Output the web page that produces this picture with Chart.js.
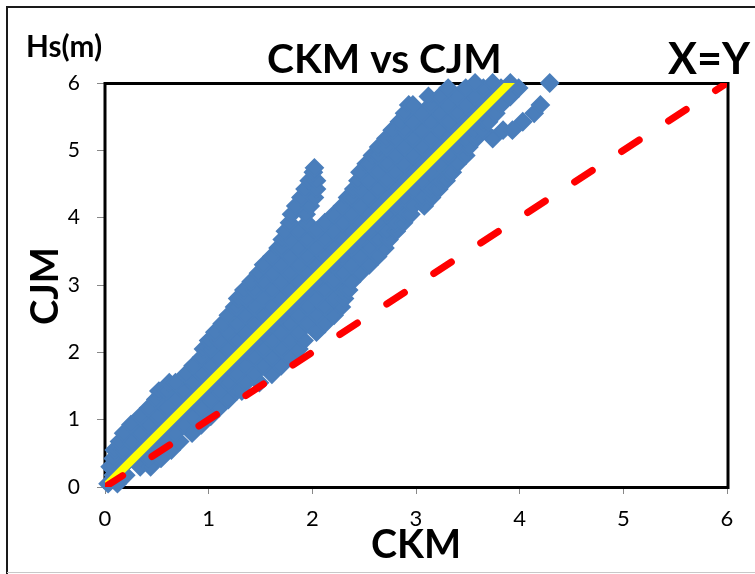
<!DOCTYPE html>
<html>
<head>
<meta charset="utf-8">
<script src="https://cdn.jsdelivr.net/npm/chart.js@4.4.1/dist/chart.umd.min.js"></script>
<style>
    body { margin: 0; background: #fff; }
    canvas { display: block; }
</style>
</head>
<body>
<canvas id="scatterChart" width="755" height="574"></canvas>
<script>
document.addEventListener("DOMContentLoaded", function () {

    // Scatter cloud:
    // one CJM value per row, and the CKM values seen along that row
    const cjmRows = [
        0.05, 0.175, 0.3, 0.425, 0.55, 0.675, 0.8, 0.925,
        1.05, 1.175, 1.3, 1.425, 1.55, 1.675, 1.8, 1.925,
        2.05, 2.175, 2.3, 2.425, 2.55, 2.675, 2.8, 2.925,
        3.05, 3.175, 3.3, 3.425, 3.55, 3.675, 3.8, 3.925,
        4.05, 4.175, 4.3, 4.425, 4.55, 4.675, 4.74, 4.8, 4.925,
        5.05, 5.175, 5.3, 5.425, 5.55, 5.675, 5.8, 5.925, 6.0
    ];
    const ckmRows = [
        [0.03, 0.12],
        [0.08, 0.2],
        [0.05, 0.17, 0.34, 0.44],
        [0.08, 0.25, 0.42, 0.54],
        [0.09, 0.17, 0.34, 0.51, 0.64],
        [0.14, 0.25, 0.42, 0.59, 0.72],
        [0.18, 0.34, 0.51, 0.68, 0.84],
        [0.25, 0.42, 0.59, 0.76, 0.93],
        [0.34, 0.51, 0.68, 0.85, 1.02],
        [0.42, 0.59, 0.76, 0.93, 1.10],
        [0.49, 0.68, 0.85, 1.02, 1.19],
        [0.52, 0.59, 0.76, 0.93, 1.10, 1.27, 1.32],
        [0.62, 0.68, 0.85, 1.02, 1.19, 1.36, 1.49],
        [0.78, 0.93, 1.10, 1.27, 1.44, 1.61],
        [0.85, 1.02, 1.19, 1.36, 1.53, 1.70],
        [0.93, 1.10, 1.27, 1.44, 1.61, 1.78],
        [0.95, 1.02, 1.19, 1.36, 1.53, 1.70, 1.87],
        [1.00, 1.10, 1.27, 1.44, 1.61, 1.78, 1.92],
        [1.06, 1.19, 1.36, 1.53, 1.70, 1.87, 2.04],
        [1.13, 1.27, 1.44, 1.61, 1.78, 1.95, 2.12],
        [1.19, 1.36, 1.53, 1.70, 1.87, 2.04, 2.21],
        [1.25, 1.27, 1.44, 1.61, 1.78, 1.95, 2.12, 2.28],
        [1.28, 1.36, 1.53, 1.70, 1.87, 2.04, 2.21, 2.31],
        [1.34, 1.44, 1.61, 1.78, 1.95, 2.12, 2.29, 2.35],
        [1.41, 1.53, 1.70, 1.87, 2.04, 2.21, 2.38],
        [1.48, 1.61, 1.78, 1.95, 2.12, 2.29, 2.46],
        [1.53, 1.70, 1.87, 2.04, 2.21, 2.38, 2.55],
        [1.61, 1.78, 1.95, 2.12, 2.29, 2.46, 2.63],
        [1.67, 1.70, 1.87, 2.04, 2.21, 2.38, 2.55, 2.70],
        [1.71, 1.78, 1.95, 2.12, 2.29, 2.46, 2.63, 2.74],
        [1.74, 1.87, 2.04, 2.21, 2.38, 2.55, 2.72, 2.81],
        [1.78, 1.95, 2.12, 2.29, 2.46, 2.63, 2.80, 2.88],
        [1.80, 1.94, 2.21, 2.38, 2.55, 2.72, 2.89, 2.95],
        [1.84, 1.98, 2.29, 2.46, 2.63, 2.80, 2.97, 3.08],
        [1.89, 2.02, 2.34, 2.38, 2.55, 2.72, 2.89, 3.06, 3.15],
        [1.93, 2.04, 2.40, 2.46, 2.63, 2.80, 2.97, 3.14, 3.22],
        [1.97, 2.04, 2.44, 2.55, 2.72, 2.89, 3.06, 3.23, 3.29],
        [2.01, 2.46, 2.63, 2.80, 2.97, 3.14, 3.31, 3.35],
        [2.02],
        [2.52, 2.55, 2.72, 2.89, 3.06, 3.23, 3.40],
        [2.58, 2.63, 2.80, 2.97, 3.14, 3.31, 3.48],
        [2.64, 2.72, 2.89, 3.06, 3.23, 3.40, 3.51],
        [2.71, 2.80, 2.97, 3.14, 3.31, 3.48, 3.58, 3.74],
        [2.77, 2.89, 3.06, 3.23, 3.40, 3.57, 3.65, 3.84, 3.93],
        [2.84, 2.97, 3.14, 3.31, 3.48, 3.65, 3.70, 4.03],
        [2.89, 3.06, 3.23, 3.40, 3.57, 3.74, 3.77, 4.14],
        [2.93, 2.97, 3.14, 3.31, 3.48, 3.65, 3.82, 4.20],
        [3.12, 3.23, 3.40, 3.57, 3.74, 3.91],
        [3.31, 3.48, 3.65, 3.82, 3.99],
        [3.57, 3.74, 3.91, 4.29]
    ];

    // Yellow fitted line and red X=Y line
    const fitCkm = [0, 3.9];
    const fitCjm = [0, 6];
    const xyCkm = [0, 6];
    const xyCjm = [0, 6];

    const axisMin = 0;
    const axisMax = 6;

    const cloud = [];
    cjmRows.forEach(function (cjm, i) {
        ckmRows[i].forEach(function (ckm) {
            cloud.push({ x: ckm, y: cjm });
        });
    });
    const fitLine = fitCkm.map(function (v, i) { return { x: v, y: fitCjm[i] }; });
    const xyLine = xyCkm.map(function (v, i) { return { x: v, y: xyCjm[i] }; });

    function setFittedFont(ctx, text, width) {
        ctx.font = "bold 100px Lato";
        const size = 100 * width / ctx.measureText(text).width;
        ctx.font = "bold " + size.toFixed(1) + "px Lato";
    }

    // Frame, plot border and the bold texts
    const decor = {
        id: "decor",
        beforeDatasetsDraw(chart) {
            const ctx = chart.ctx;
            const a = chart.chartArea;
            ctx.save();
            ctx.strokeStyle = "#000";
            ctx.lineWidth = 3;
            ctx.strokeRect(a.left, a.top + 0.5, a.right - a.left + 1, a.bottom - a.top);
            ctx.restore();
        },
        afterDraw(chart) {
            const ctx = chart.ctx;
            ctx.save();
            // outer frame
            ctx.strokeStyle = "#1a1a1a";
            ctx.lineWidth = 2;
            ctx.beginPath();
            ctx.moveTo(755, 7);
            ctx.lineTo(7, 7);
            ctx.lineTo(7, 574);
            ctx.stroke();
            ctx.strokeStyle = "#c8c8c8";
            ctx.lineWidth = 1;
            ctx.beginPath();
            ctx.moveTo(7, 572.5);
            ctx.lineTo(755, 572.5);
            ctx.stroke();

            ctx.fillStyle = "#000";
            ctx.textBaseline = "alphabetic";
            ctx.textAlign = "left";
            setFittedFont(ctx, "Hs(m)", 76);
            ctx.fillText("Hs(m)", 26, 57);
            setFittedFont(ctx, "CKM vs CJM", 235);
            ctx.fillText("CKM vs CJM", 267, 73);
            setFittedFont(ctx, "X=Y", 82);
            ctx.fillText("X=Y", 668, 74);

            ctx.textAlign = "center";
            setFittedFont(ctx, "CKM", 90);
            ctx.fillText("CKM", 416, 558);

            ctx.translate(58, 286);
            ctx.rotate(-Math.PI / 2);
            setFittedFont(ctx, "CJM", 78);
            ctx.fillText("CJM", 0, 0);
            ctx.restore();
        }
    };

    const ctx = document.getElementById("scatterChart");

    new Chart(ctx, {
        type: "scatter",
        data: {
            datasets: [
                {
                    label: "X=Y",
                    data: xyLine,
                    showLine: true,
                    borderColor: "#ff0000",
                    borderWidth: 7,
                    borderDash: [21, 35],
                    borderCapStyle: "round",
                    pointRadius: 0,
                    order: 1
                },
                {
                    label: "Fit",
                    data: fitLine,
                    showLine: true,
                    borderColor: "#ffff00",
                    borderWidth: 8,
                    borderCapStyle: "square",
                    pointRadius: 0,
                    clip: 0,
                    order: 2
                },
                {
                    label: "CKM vs CJM",
                    data: cloud,
                    pointStyle: "rectRot",
                    pointRadius: 8.5,
                    backgroundColor: "#4a7ebb",
                    borderColor: "#4a7ebb",
                    borderWidth: 2,
                    clip: false,
                    order: 3
                }
            ]
        },
        options: {
            responsive: false,
            animation: false,
            events: [],
            layout: {
                padding: { top: 83, right: 28, left: 0, bottom: 0 }
            },
            plugins: {
                legend: { display: false },
                tooltip: { enabled: false }
            },
            scales: {
                x: {
                    type: "linear",
                    min: axisMin,
                    max: axisMax,
                    afterFit: function (scale) { scale.height = 87; },
                    border: { display: false },
                    grid: {
                        drawOnChartArea: false,
                        drawTicks: true,
                        tickLength: 7,
                        color: "#888"
                    },
                    ticks: {
                        stepSize: 1,
                        padding: 12,
                        color: "#000",
                        font: { family: "Lato", size: 22 }
                    }
                },
                y: {
                    type: "linear",
                    min: axisMin,
                    max: axisMax,
                    afterFit: function (scale) { scale.width = 105; },
                    border: { display: false },
                    grid: {
                        drawOnChartArea: false,
                        drawTicks: true,
                        tickLength: 8,
                        color: "#888"
                    },
                    ticks: {
                        stepSize: 1,
                        padding: 17,
                        color: "#000",
                        font: { family: "Lato", size: 21 }
                    }
                }
            }
        },
        plugins: [decor]
    });

});
</script>
</body>
</html>
